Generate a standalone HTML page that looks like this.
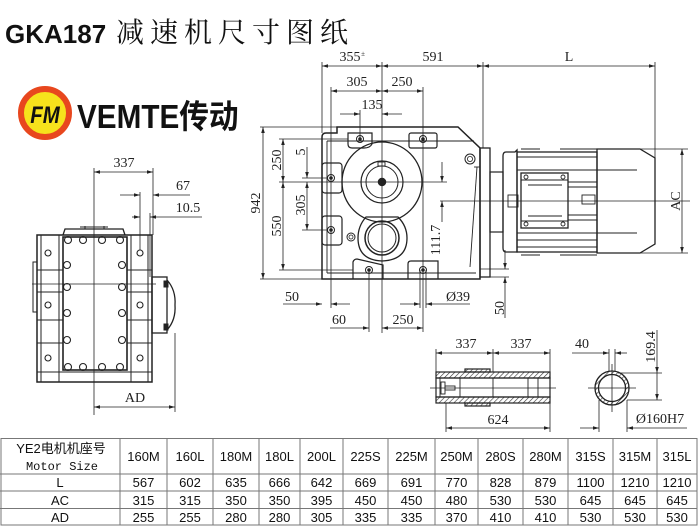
<!DOCTYPE html>
<html><head><meta charset="utf-8">
<style>
html,body{margin:0;padding:0;background:#fff;}
body{width:700px;height:526px;position:relative;overflow:hidden;}
svg{position:absolute;left:0;top:0;}
</style></head><body>
<svg width="700" height="526" viewBox="0 0 700 526" xmlns="http://www.w3.org/2000/svg">
<defs>
<marker id="a" viewBox="0 0 10 6" refX="10" refY="3" markerWidth="8" markerHeight="3.6" orient="auto-start-reverse" markerUnits="userSpaceOnUse"><path d="M0,0 L10,3 L0,6 Z" fill="#222"/></marker>
<pattern id="h" width="3.5" height="3.5" patternUnits="userSpaceOnUse" patternTransform="rotate(45)"><line x1="0" y1="0" x2="0" y2="3.5" stroke="#333" stroke-width="1.2"/></pattern>
</defs>

<!-- Title -->
<text x="5" y="43" font-family="Liberation Sans, sans-serif" font-weight="bold" font-size="26" fill="#111">GKA187</text>
<text x="116" y="42" font-family="Noto Serif CJK SC, serif" font-size="28" letter-spacing="6" fill="#111">减速机尺寸图纸</text>

<!-- Logo -->
<circle cx="45" cy="113" r="24" fill="#f6e21c" stroke="#e8471e" stroke-width="6"/>
<text x="45" y="123" text-anchor="middle" font-family="Liberation Sans, sans-serif" font-weight="bold" font-style="italic" font-size="24" fill="#111" transform="translate(45,0) scale(0.85,1) translate(-45,0)">FM</text>
<text transform="translate(77,128) scale(0.9,1)" x="0" y="0" font-family="Liberation Sans, Noto Sans CJK SC, sans-serif" font-weight="bold" font-size="33" fill="#111">VEMTE传动</text>

<!-- ================= LEFT VIEW ================= -->
<g stroke="#222" fill="none" stroke-width="1">
  <!-- center lines -->
  <line x1="94" y1="168" x2="94" y2="415" stroke-width="0.8"/>
  <line x1="32" y1="284" x2="156" y2="284" stroke-width="0.8"/>
  <!-- body -->
  <rect x="37" y="235" width="115" height="147" stroke-width="1.5"/>
  <rect x="33" y="262" width="4" height="50"/>
  <path d="M63,235 L65,229 L123,229 L125,235" stroke-width="1.3"/>
  <line x1="85" y1="229" x2="85" y2="226"/><line x1="104" y1="229" x2="104" y2="226"/>
  <path d="M80,227 L108,227"/>
  <rect x="63" y="237" width="64" height="133" stroke-width="1.6"/>
  <line x1="41" y1="235" x2="41" y2="382"/>
  <line x1="59" y1="235" x2="59" y2="382"/>
  <line x1="131" y1="235" x2="131" y2="382"/>
  <line x1="148" y1="235" x2="148" y2="382"/>
  <line x1="37" y1="270" x2="63" y2="270"/><line x1="37" y1="292" x2="63" y2="292"/>
  <line x1="37" y1="320" x2="63" y2="320"/><line x1="37" y1="343" x2="63" y2="343"/>
  <line x1="127" y1="270" x2="152" y2="270"/><line x1="127" y1="292" x2="152" y2="292"/>
  <line x1="127" y1="320" x2="152" y2="320"/><line x1="127" y1="343" x2="152" y2="343"/>
  <line x1="37" y1="372" x2="152" y2="372"/>
  <!-- right protrusion -->
  <rect x="152" y="277" width="15" height="56" stroke-width="1.3"/>
  <path d="M167,280 Q176,290 175,305 Q176,320 167,330" stroke-width="1.3"/>
  <rect x="164" y="281" width="4" height="6" fill="#222"/>
  <rect x="164" y="324" width="4" height="6" fill="#222"/>
  <!-- bolts -->
  <g stroke-width="1.1">
    <circle cx="48" cy="253" r="3"/><circle cx="48" cy="305" r="3"/><circle cx="48" cy="358" r="3"/>
    <circle cx="140" cy="253" r="3"/><circle cx="140" cy="305" r="3"/><circle cx="140" cy="358" r="3"/>
    <circle cx="68" cy="240" r="3.5"/><circle cx="83" cy="240" r="3.5"/><circle cx="102" cy="240" r="3.5"/><circle cx="120" cy="240" r="3.5"/>
    <circle cx="68" cy="367" r="3.5"/><circle cx="83" cy="367" r="3.5"/><circle cx="102" cy="367" r="3.5"/><circle cx="120" cy="367" r="3.5"/>
    <circle cx="67" cy="265" r="3.5"/><circle cx="67" cy="287" r="3.5"/><circle cx="67" cy="313" r="3.5"/><circle cx="67" cy="340" r="3.5"/>
    <circle cx="122" cy="265" r="3.5"/><circle cx="122" cy="287" r="3.5"/><circle cx="122" cy="313" r="3.5"/><circle cx="122" cy="340" r="3.5"/>
  </g>
  <!-- dims -->
  <line x1="153" y1="168" x2="153" y2="235" stroke-width="0.8"/>
  <line x1="140" y1="192" x2="140" y2="250" stroke-width="0.8"/>
  <line x1="150" y1="213" x2="150" y2="277" stroke-width="0.8"/>
  <line x1="175" y1="333" x2="175" y2="412" stroke-width="0.8"/>
  <line x1="94" y1="172" x2="153" y2="172" marker-start="url(#a)" marker-end="url(#a)" stroke-width="0.8"/>
  <line x1="120" y1="195" x2="140" y2="195" marker-end="url(#a)" stroke-width="0.8"/>
  <line x1="190" y1="195" x2="153" y2="195" marker-end="url(#a)" stroke-width="0.8"/>
  <line x1="132" y1="217" x2="140" y2="217" marker-end="url(#a)" stroke-width="0.8"/>
  <line x1="202" y1="217" x2="150" y2="217" marker-end="url(#a)" stroke-width="0.8"/>
  <line x1="94" y1="407" x2="175" y2="407" marker-start="url(#a)" marker-end="url(#a)" stroke-width="0.8"/>
</g>
<g font-family="Liberation Serif, serif" font-size="14" fill="#222" text-anchor="middle">
  <text x="124" y="167">337</text>
  <text x="183" y="190">67</text>
  <text x="188" y="212">10.5</text>
  <text x="135" y="402">AD</text>
</g>

<!-- ================= MAIN VIEW ================= -->
<g stroke="#222" fill="none" stroke-width="0.8">
  <!-- extension lines top -->
  <line x1="322" y1="62" x2="322" y2="133"/>
  <line x1="382" y1="62" x2="382" y2="333"/>
  <line x1="483" y1="62" x2="483" y2="148"/>
  <line x1="655" y1="62" x2="655" y2="200"/>
  <line x1="331" y1="87" x2="331" y2="308"/>
  <line x1="423" y1="87" x2="423" y2="332"/>
  <line x1="360" y1="110" x2="360" y2="139"/>
  <line x1="369" y1="270" x2="369" y2="332"/>
  <line x1="420" y1="270" x2="420" y2="308"/>
  <line x1="426" y1="270" x2="426" y2="308"/>
  <!-- top dims -->
  <line x1="322" y1="66" x2="382" y2="66" marker-start="url(#a)" marker-end="url(#a)"/>
  <line x1="382" y1="66" x2="483" y2="66" marker-start="url(#a)" marker-end="url(#a)"/>
  <line x1="483" y1="66" x2="655" y2="66" marker-start="url(#a)" marker-end="url(#a)"/>
  <line x1="331" y1="91" x2="382" y2="91" marker-start="url(#a)" marker-end="url(#a)"/>
  <line x1="382" y1="91" x2="423" y2="91" marker-start="url(#a)" marker-end="url(#a)"/>
  <line x1="340" y1="114" x2="360" y2="114" marker-end="url(#a)"/>
  <line x1="402" y1="114" x2="382" y2="114" marker-end="url(#a)"/>
  <!-- left extension lines -->
  <line x1="260" y1="127" x2="337" y2="127"/>
  <line x1="260" y1="279" x2="322" y2="279"/>
  <line x1="279" y1="139" x2="348" y2="139"/>
  <line x1="279" y1="182" x2="447" y2="182"/>
  <line x1="302" y1="178" x2="327" y2="178"/>
  <line x1="302" y1="230" x2="327" y2="230"/>
  <line x1="279" y1="270" x2="353" y2="270"/>
  <!-- left dims -->
  <line x1="263" y1="127" x2="263" y2="279" marker-start="url(#a)" marker-end="url(#a)"/>
  <line x1="283" y1="139" x2="283" y2="182" marker-start="url(#a)" marker-end="url(#a)"/>
  <line x1="283" y1="182" x2="283" y2="270" marker-start="url(#a)" marker-end="url(#a)"/>
  <line x1="307" y1="147" x2="307" y2="178" marker-end="url(#a)"/>
  <line x1="307" y1="182" x2="307" y2="230" marker-start="url(#a)" marker-end="url(#a)"/>
  <!-- 111.7 -->
  <line x1="442" y1="162" x2="442" y2="182" marker-end="url(#a)"/>
  <line x1="442" y1="222" x2="442" y2="201" marker-end="url(#a)"/>
  <line x1="440" y1="201" x2="690" y2="201"/>
  <!-- bottom dims -->
  <line x1="283" y1="304" x2="322" y2="304" marker-end="url(#a)"/>
  <line x1="350" y1="304" x2="331" y2="304" marker-end="url(#a)"/>
  <line x1="330" y1="328" x2="369" y2="328" marker-end="url(#a)"/>
  <line x1="382" y1="328" x2="423" y2="328" marker-start="url(#a)" marker-end="url(#a)"/>
  <line x1="400" y1="304" x2="420" y2="304" marker-end="url(#a)"/>
  <line x1="470" y1="304" x2="426" y2="304" marker-end="url(#a)"/>
  <!-- right 50 -->
  <line x1="480" y1="269" x2="509" y2="269"/>
  <line x1="480" y1="277" x2="509" y2="277"/>
  <line x1="505" y1="250" x2="505" y2="269" marker-end="url(#a)"/>
  <line x1="505" y1="318" x2="505" y2="277" marker-end="url(#a)"/>
  <!-- AC -->
  <line x1="640" y1="149" x2="688" y2="149"/>
  <line x1="640" y1="253" x2="688" y2="253"/>
  <line x1="682" y1="149" x2="682" y2="253" marker-start="url(#a)" marker-end="url(#a)"/>
</g>

<!-- housing -->
<g stroke="#222" fill="none" stroke-width="1.5">
  <path d="M326,133 L337,133 L337,127 L458,127 L480,148 L480,279 L322,279 L322,137 Q322,133 326,133 Z"/>
  <g stroke-width="0.9">
    <line x1="327" y1="141" x2="474" y2="141"/>
    <line x1="327" y1="141" x2="327" y2="273"/>
    <line x1="327" y1="273" x2="476" y2="273"/>
    <line x1="477" y1="167" x2="470" y2="267"/>
    <line x1="474" y1="167" x2="480" y2="167"/>
  </g>
  <!-- flange & neck -->
  <rect x="480" y="148" width="10" height="129" stroke-width="1.3"/>
  <rect x="490" y="172" width="13" height="60" stroke-width="1.2"/>
  <!-- big circle -->
  <circle cx="382" cy="182" r="40" stroke-width="1.3"/>
  <circle cx="382" cy="182" r="21" stroke-width="1.2"/>
  <circle cx="382" cy="182" r="16" stroke-width="1"/>
  <circle cx="382" cy="182" r="3.5" fill="#222"/>
  <rect x="378" y="162" width="7" height="4" stroke-width="0.9"/>
  <!-- lower boss -->
  <path d="M366,217 L398,217 Q407,226 407,238 Q407,260 382,261 Q358,260 358,238 Q358,226 366,217 Z" stroke-width="1.3"/>
  <circle cx="382" cy="238" r="17" stroke-width="1.5"/>
  <circle cx="382" cy="238" r="14" stroke-width="1"/>
  <!-- small circles -->
  <circle cx="351" cy="237" r="4" stroke-width="1"/><circle cx="351" cy="237" r="2" stroke-width="0.8"/>
  <circle cx="470" cy="159" r="5" stroke-width="1"/><circle cx="470" cy="159" r="2.6" stroke-width="0.8"/>
  <!-- bosses -->
  <g stroke-width="1.2">
    <path d="M348,133 L372,133 L372,144 Q370,148 364,148 L352,148 Q348,148 348,144 Z"/>
    <rect x="409" y="133" width="28" height="15" rx="2"/>
    <rect x="322" y="163" width="20" height="30" rx="3"/>
    <rect x="322" y="216" width="20" height="29" rx="3"/>
    <path d="M353,279 L353,262 Q354,259 357,259 L383,265 L383,279"/>
    <path d="M408,279 L408,264 Q408,261 411,261 L438,261 L438,279"/>
  </g>
  <g stroke-width="1">
    <circle cx="360" cy="139" r="3.5"/><circle cx="360" cy="139" r="1.3" fill="#222"/>
    <circle cx="423" cy="139" r="3.5"/><circle cx="423" cy="139" r="1.3" fill="#222"/>
    <circle cx="331" cy="178" r="3.5"/><circle cx="331" cy="178" r="1.3" fill="#222"/>
    <circle cx="331" cy="230" r="3.5"/><circle cx="331" cy="230" r="1.3" fill="#222"/>
    <circle cx="369" cy="270" r="3.5"/><circle cx="369" cy="270" r="1.3" fill="#222"/>
    <circle cx="423" cy="270" r="3.5"/><circle cx="423" cy="270" r="1.3" fill="#222"/>
  </g>
</g>

<!-- motor -->
<g stroke="#222" fill="none" stroke-width="1.3">
  <path d="M506,152 L515,152 L517,150 L517,252 L506,252 Q503,252 503,248 L503,156 Q503,152 506,152 Z"/>
  <rect x="517" y="152" width="80" height="100"/>
  <line x1="521" y1="149" x2="540" y2="149" stroke-width="1"/>
  <line x1="560" y1="149" x2="597" y2="149" stroke-width="1"/>
  <line x1="521" y1="255" x2="540" y2="255" stroke-width="1"/>
  <line x1="560" y1="255" x2="597" y2="255" stroke-width="1"/>
  <path d="M597,149 L640,149 L655,158 L655,244 L640,253 L597,253 Z"/>
  <g stroke-width="0.9">
    <line x1="517" y1="157" x2="597" y2="157"/>
    <line x1="517" y1="170" x2="597" y2="170"/>
    <line x1="517" y1="233" x2="597" y2="233"/>
    <line x1="517" y1="240" x2="597" y2="240"/>
    <line x1="517" y1="247" x2="597" y2="247"/>
    <line x1="597" y1="170" x2="637" y2="170"/>
    <line x1="597" y1="233" x2="637" y2="233"/>
    <line x1="568" y1="182" x2="597" y2="182"/>
    <line x1="568" y1="187" x2="597" y2="187"/>
    <line x1="568" y1="215" x2="597" y2="215"/>
    <line x1="568" y1="220" x2="597" y2="220"/>
    <rect x="582" y="195" width="13" height="9"/>
    <rect x="508" y="195" width="10" height="12"/>
  </g>
  <rect x="521" y="173" width="47" height="55" stroke-width="1.3"/>
  <g stroke-width="0.9">
    <line x1="521" y1="180" x2="568" y2="180"/>
    <line x1="521" y1="221" x2="568" y2="221"/>
    <line x1="528" y1="185" x2="562" y2="185"/>
    <line x1="528" y1="216" x2="562" y2="216"/>
    <circle cx="526" cy="177" r="2"/><circle cx="563" cy="177" r="2"/>
    <circle cx="526" cy="224" r="2"/><circle cx="563" cy="224" r="2"/>
  </g>
</g>

<g font-family="Liberation Serif, serif" font-size="14" fill="#222" text-anchor="middle">
  <text x="350" y="61">355</text>
  <text x="363" y="56" font-size="7">±</text>
  <text x="433" y="61">591</text>
  <text x="569" y="61">L</text>
  <text x="357" y="86">305</text>
  <text x="402" y="86">250</text>
  <text x="372" y="109">135</text>
  <text transform="translate(260,203) rotate(-90)">942</text>
  <text transform="translate(281,160) rotate(-90)">250</text>
  <text transform="translate(281,226) rotate(-90)">550</text>
  <text transform="translate(305,152) rotate(-90)">5</text>
  <text transform="translate(305,205) rotate(-90)">305</text>
  <text transform="translate(440,240) rotate(-90)">111.7</text>
  <text transform="translate(504,308) rotate(-90)">50</text>
  <text transform="translate(680,201) rotate(-90)">AC</text>
  <text x="292" y="301">50</text>
  <text x="339" y="324">60</text>
  <text x="403" y="324">250</text>
  <text x="458" y="301">Ø39</text>
</g>

<!-- ================= SHAFT SECTION ================= -->
<g stroke="#222" fill="none" stroke-width="0.8">
  <line x1="436" y1="349" x2="436" y2="372"/>
  <line x1="493" y1="349" x2="493" y2="372"/>
  <line x1="550" y1="349" x2="550" y2="432"/>
  <line x1="446" y1="403" x2="446" y2="432"/>
  <line x1="436" y1="353" x2="493" y2="353" marker-start="url(#a)" marker-end="url(#a)"/>
  <line x1="493" y1="353" x2="550" y2="353" marker-start="url(#a)" marker-end="url(#a)"/>
  <line x1="446" y1="428" x2="550" y2="428" marker-start="url(#a)" marker-end="url(#a)"/>
  <line x1="430" y1="388" x2="556" y2="388"/>
</g>
<g stroke="#222" stroke-width="1.2">
  <rect x="436" y="378" width="114" height="19" fill="none"/>
  <rect x="436" y="372" width="114" height="6" fill="url(#h)"/>
  <rect x="436" y="397" width="114" height="6" fill="url(#h)"/>
  <rect x="465" y="369" width="25" height="3" fill="url(#h)"/>
  <rect x="465" y="403" width="25" height="3" fill="url(#h)"/>
  <g stroke-width="0.9" fill="none">
    <line x1="440" y1="378" x2="440" y2="397"/>
    <line x1="460" y1="378" x2="460" y2="397"/>
    <line x1="493" y1="378" x2="493" y2="397"/>
    <line x1="528" y1="378" x2="528" y2="397"/>
    <line x1="538" y1="378" x2="538" y2="397"/>
    <rect x="441" y="382" width="4" height="12"/>
    <rect x="445" y="386" width="10" height="4"/>
  </g>
</g>
<!-- circle section -->
<path d="M595,388 a17,17 0 1,0 34,0 a17,17 0 1,0 -34,0 Z M598.5,388 a13.5,13.5 0 1,1 27,0 a13.5,13.5 0 1,1 -27,0 Z" fill="url(#h)" fill-rule="evenodd" stroke="#222" stroke-width="1.3"/>
<g stroke="#222" fill="none" stroke-width="0.8">
  <line x1="588" y1="388" x2="636" y2="388"/>
  <line x1="612" y1="364" x2="612" y2="412"/>
  <line x1="609" y1="349" x2="609" y2="372"/>
  <line x1="615" y1="349" x2="615" y2="372"/>
  <line x1="572" y1="353" x2="609" y2="353" marker-end="url(#a)"/>
  <line x1="627" y1="353" x2="615" y2="353" marker-end="url(#a)"/>
  <line x1="618" y1="373" x2="662" y2="373"/>
  <line x1="627" y1="400" x2="662" y2="400"/>
  <line x1="657" y1="330" x2="657" y2="373" marker-end="url(#a)"/>
  <line x1="657" y1="373" x2="657" y2="400" marker-end="url(#a)"/>
  <line x1="599" y1="400" x2="599" y2="432"/>
  <line x1="627" y1="400" x2="627" y2="432"/>
  <line x1="580" y1="428" x2="599" y2="428" marker-end="url(#a)"/>
  <line x1="687" y1="428" x2="627" y2="428" marker-end="url(#a)"/>
</g>
<g font-family="Liberation Serif, serif" font-size="14" fill="#222" text-anchor="middle">
  <text x="466" y="348">337</text>
  <text x="521" y="348">337</text>
  <text x="498" y="424">624</text>
  <text x="582" y="348">40</text>
  <text transform="translate(655,347) rotate(-90)">169.4</text>
  <text x="660" y="423">Ø160H7</text>
</g>

<!-- ================= TABLE ================= -->
<g stroke="#777" stroke-width="1" fill="none">
  <rect x="1" y="438.5" width="696" height="86.5"/>
  <line x1="0" y1="474" x2="697" y2="474"/>
  <line x1="0" y1="491" x2="697" y2="491"/>
  <line x1="0" y1="508.5" x2="697" y2="508.5"/>
  <line x1="120" y1="438" x2="120" y2="525"/>
  <line x1="167" y1="438" x2="167" y2="525"/>
  <line x1="213" y1="438" x2="213" y2="525"/>
  <line x1="259" y1="438" x2="259" y2="525"/>
  <line x1="300" y1="438" x2="300" y2="525"/>
  <line x1="343" y1="438" x2="343" y2="525"/>
  <line x1="388" y1="438" x2="388" y2="525"/>
  <line x1="435" y1="438" x2="435" y2="525"/>
  <line x1="478" y1="438" x2="478" y2="525"/>
  <line x1="523" y1="438" x2="523" y2="525"/>
  <line x1="568" y1="438" x2="568" y2="525"/>
  <line x1="613" y1="438" x2="613" y2="525"/>
  <line x1="657" y1="438" x2="657" y2="525"/>
</g>
<g font-family="Liberation Sans, Noto Sans CJK SC, sans-serif" font-size="13" fill="#111" text-anchor="middle">
  <text x="61" y="453">YE2电机机座号</text>
  <text x="62" y="470" font-family="Liberation Mono, monospace" font-size="12">Motor Size</text>
  <text x="60" y="487">L</text>
  <text x="60" y="505">AC</text>
  <text x="60" y="522">AD</text>
  <g>
    <text x="143.5" y="461">160M</text><text x="190" y="461">160L</text><text x="236" y="461">180M</text><text x="279.5" y="461">180L</text><text x="321.5" y="461">200L</text><text x="365.5" y="461">225S</text><text x="411.5" y="461">225M</text><text x="456.5" y="461">250M</text><text x="500.5" y="461">280S</text><text x="545.5" y="461">280M</text><text x="590.5" y="461">315S</text><text x="635" y="461">315M</text><text x="677" y="461">315L</text>
  </g>
  <g>
    <text x="143.5" y="487">567</text><text x="190" y="487">602</text><text x="236" y="487">635</text><text x="279.5" y="487">666</text><text x="321.5" y="487">642</text><text x="365.5" y="487">669</text><text x="411.5" y="487">691</text><text x="456.5" y="487">770</text><text x="500.5" y="487">828</text><text x="545.5" y="487">879</text><text x="590.5" y="487">1100</text><text x="635" y="487">1210</text><text x="677" y="487">1210</text>
  </g>
  <g>
    <text x="143.5" y="505">315</text><text x="190" y="505">315</text><text x="236" y="505">350</text><text x="279.5" y="505">350</text><text x="321.5" y="505">395</text><text x="365.5" y="505">450</text><text x="411.5" y="505">450</text><text x="456.5" y="505">480</text><text x="500.5" y="505">530</text><text x="545.5" y="505">530</text><text x="590.5" y="505">645</text><text x="635" y="505">645</text><text x="677" y="505">645</text>
  </g>
  <g>
    <text x="143.5" y="522">255</text><text x="190" y="522">255</text><text x="236" y="522">280</text><text x="279.5" y="522">280</text><text x="321.5" y="522">305</text><text x="365.5" y="522">335</text><text x="411.5" y="522">335</text><text x="456.5" y="522">370</text><text x="500.5" y="522">410</text><text x="545.5" y="522">410</text><text x="590.5" y="522">530</text><text x="635" y="522">530</text><text x="677" y="522">530</text>
  </g>
</g>
</svg>
</body></html>
